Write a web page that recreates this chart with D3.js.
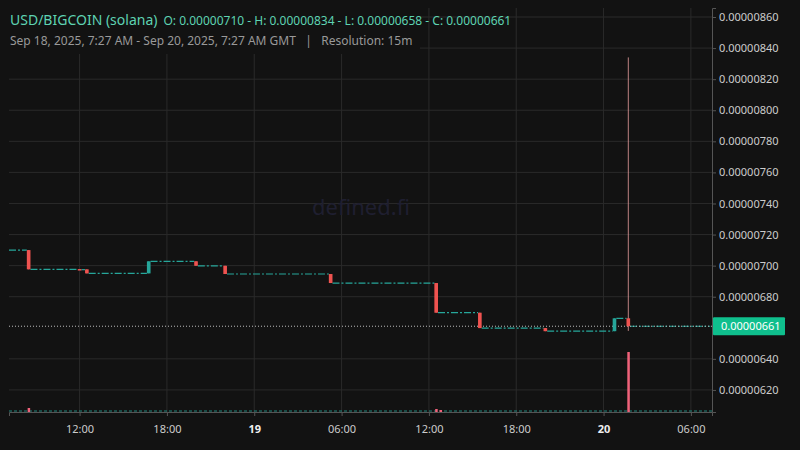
<!DOCTYPE html>
<html><head><meta charset="utf-8">
<script src="https://cdn.jsdelivr.net/npm/d3@7"></script>
<style>body{margin:0;background:#121212;font-family:"Noto Sans","Open Sans",sans-serif}</style>
</head><body><div id="chart"></div>
<script>
// prices in units of 1e-8, times as hours from Sep 18 00:00 GMT
const moveTimes  = [8.5, 12.0, 12.5, 16.75, 20.0, 22.0, 29.25, 36.5, 39.5, 44.0, 48.75, 49.7];
const moveOpens  = [710, 697.8, 697.6, 695, 702.8, 699.9, 694.6, 688.8, 669.7, 659.8, 657.8, 666.1];
const moveCloses = [697.6, 697.4, 695, 702.8, 699.9, 694.6, 688.8, 669.7, 659.8, 657.8, 666.1, 661];
const moveHighs  = [710, 697.8, 697.6, 702.8, 702.8, 699.9, 694.6, 688.8, 669.7, 659.8, 666.1, 834];
const moveLows   = [697.6, 697.4, 695, 695, 699.9, 694.6, 688.8, 669.7, 659.8, 657.8, 657.8, 658];
const volTimes = [8.5, 36.5, 36.8, 49.7];
const volValues = [4, 3, 2, 60];
const startLevel = 710, startTime = 7.15, endTime = 55.45;
const lastPrice = 661;
const priceTicks = [620, 640, 680, 700, 720, 740, 760, 780, 800, 820, 840, 860];
const timeTicks = [12, 18, 24, 30, 36, 42, 48, 54];
const timeLabels = ["12:00", "18:00", "19", "06:00", "12:00", "18:00", "20", "06:00"];

const W = 800, H = 450, L = 9, R = 712, T = 8, B = 412;
const x = d3.scaleLinear().domain([startTime, endTime]).range([L, R]);
const y = d3.scaleLinear().domain([605.8, 865.8]).range([B, T]);
const vy = d3.scaleLinear().domain([0, 100]).range([B, B - 100]);
const up = "#26a69a", down = "#ef5350";
const cw = x(0.25) - x(0);

const svg = d3.select("#chart").append("svg").attr("width", W).attr("height", H);
svg.append("rect").attr("width", W).attr("height", H).attr("fill", "#121212");

const grid = svg.append("g").attr("stroke", "#2a2a2a");
priceTicks.forEach(p => grid.append("line").attr("x1", L).attr("x2", R).attr("y1", y(p)).attr("y2", y(p)));
timeTicks.forEach(t => grid.append("line").attr("x1", x(t)).attr("x2", x(t)).attr("y1", T).attr("y2", B));

// volume baseline and bars
svg.append("line").attr("x1", L).attr("x2", R).attr("y1", B - 1).attr("y2", B - 1)
  .attr("stroke", up).attr("stroke-dasharray", "3,2").attr("opacity", 0.8);
volTimes.forEach((t, i) => svg.append("rect").attr("x", x(t) - 1).attr("width", 2.5)
  .attr("y", vy(volValues[i])).attr("height", B - vy(volValues[i])).attr("fill", "#f0627a"));

// flat segments between moves
const levels = [startLevel].concat(moveCloses);
const bounds = [startTime].concat(moveTimes).concat([endTime]);
levels.forEach((lv, i) => {
  const x0 = x(bounds[i]) + (i ? cw / 2 : 0), x1 = x(bounds[i + 1]) - cw / 2;
  svg.append("line").attr("x1", x0).attr("x2", x1).attr("y1", y(lv)).attr("y2", y(lv))
    .attr("stroke", up).attr("stroke-width", 1.2).attr("stroke-dasharray", "7,2,2,2");
});

// current price line
svg.append("line").attr("x1", L).attr("x2", R).attr("y1", y(lastPrice)).attr("y2", y(lastPrice))
  .attr("stroke", "#bbb").attr("stroke-dasharray", "1,2");

// candles
moveTimes.forEach((t, i) => {
  const c = moveCloses[i] >= moveOpens[i] ? up : down;
  svg.append("line").attr("x1", x(t)).attr("x2", x(t)).attr("y1", y(moveHighs[i])).attr("y2", y(moveLows[i]))
    .attr("stroke", c === down ? "#e8a0a0" : c).attr("stroke-width", 0.8);
  const top = y(Math.max(moveOpens[i], moveCloses[i])), bot = y(Math.min(moveOpens[i], moveCloses[i]));
  svg.append("rect").attr("x", x(t) - cw / 2).attr("width", cw).attr("y", top)
    .attr("height", Math.max(1.5, bot - top)).attr("fill", c);
});

// axes
const yAxis = svg.append("g").attr("transform", `translate(${R},0)`)
  .call(d3.axisRight(y).tickValues(priceTicks).tickSize(4).tickFormat(p => (p / 1e8).toFixed(8)));
const xAxis = svg.append("g").attr("transform", `translate(0,${B})`)
  .call(d3.axisBottom(x).tickValues(timeTicks).tickSize(4).tickFormat((d, i) => timeLabels[i]));
[yAxis, xAxis].forEach(a => {
  a.select(".domain").attr("stroke", "#555");
  a.selectAll(".tick line").attr("stroke", "#555");
  a.selectAll("text").attr("fill", "#ccc").attr("font-size", 11).attr("font-family", "Noto Sans");
});
xAxis.selectAll("text").attr("dy", 14).filter((d, i) => timeLabels[i].length === 2).attr("font-weight", "bold").attr("fill", "#eee");

// last price label
svg.append("rect").attr("x", R + 1).attr("y", y(lastPrice) - 9).attr("width", 72).attr("height", 18)
  .attr("rx", 1).attr("fill", "#0fbf8d");
svg.append("text").attr("x", R + 9).attr("y", y(lastPrice) + 4).attr("fill", "#fff")
  .attr("font-size", 11).text((lastPrice / 1e8).toFixed(8));

// watermark
svg.append("text").attr("x", 361).attr("y", 215).attr("text-anchor", "middle").attr("fill", "#1f1f30")
  .attr("font-size", 22).text("defined.fi");

// header
svg.append("rect").attr("x", 0).attr("y", 0).attr("width", 420).attr("height", 54).attr("fill", "#121212");
const h = svg.append("text").attr("x", 10).attr("y", 25).attr("fill", "#5ed3b2");
h.append("tspan").attr("font-size", 14).text("USD/BIGCOIN (solana)");
h.append("tspan").attr("dx", 6).attr("font-size", 12).text("O: 0.00000710 - H: 0.00000834 - L: 0.00000658 - C: 0.00000661");
svg.append("text").attr("x", 10).attr("y", 45).attr("fill", "#999").attr("font-size", 12)
  .text("Sep 18, 2025, 7:27 AM - Sep 20, 2025, 7:27 AM GMT   |   Resolution: 15m").attr("xml:space", "preserve");
</script></body></html>
